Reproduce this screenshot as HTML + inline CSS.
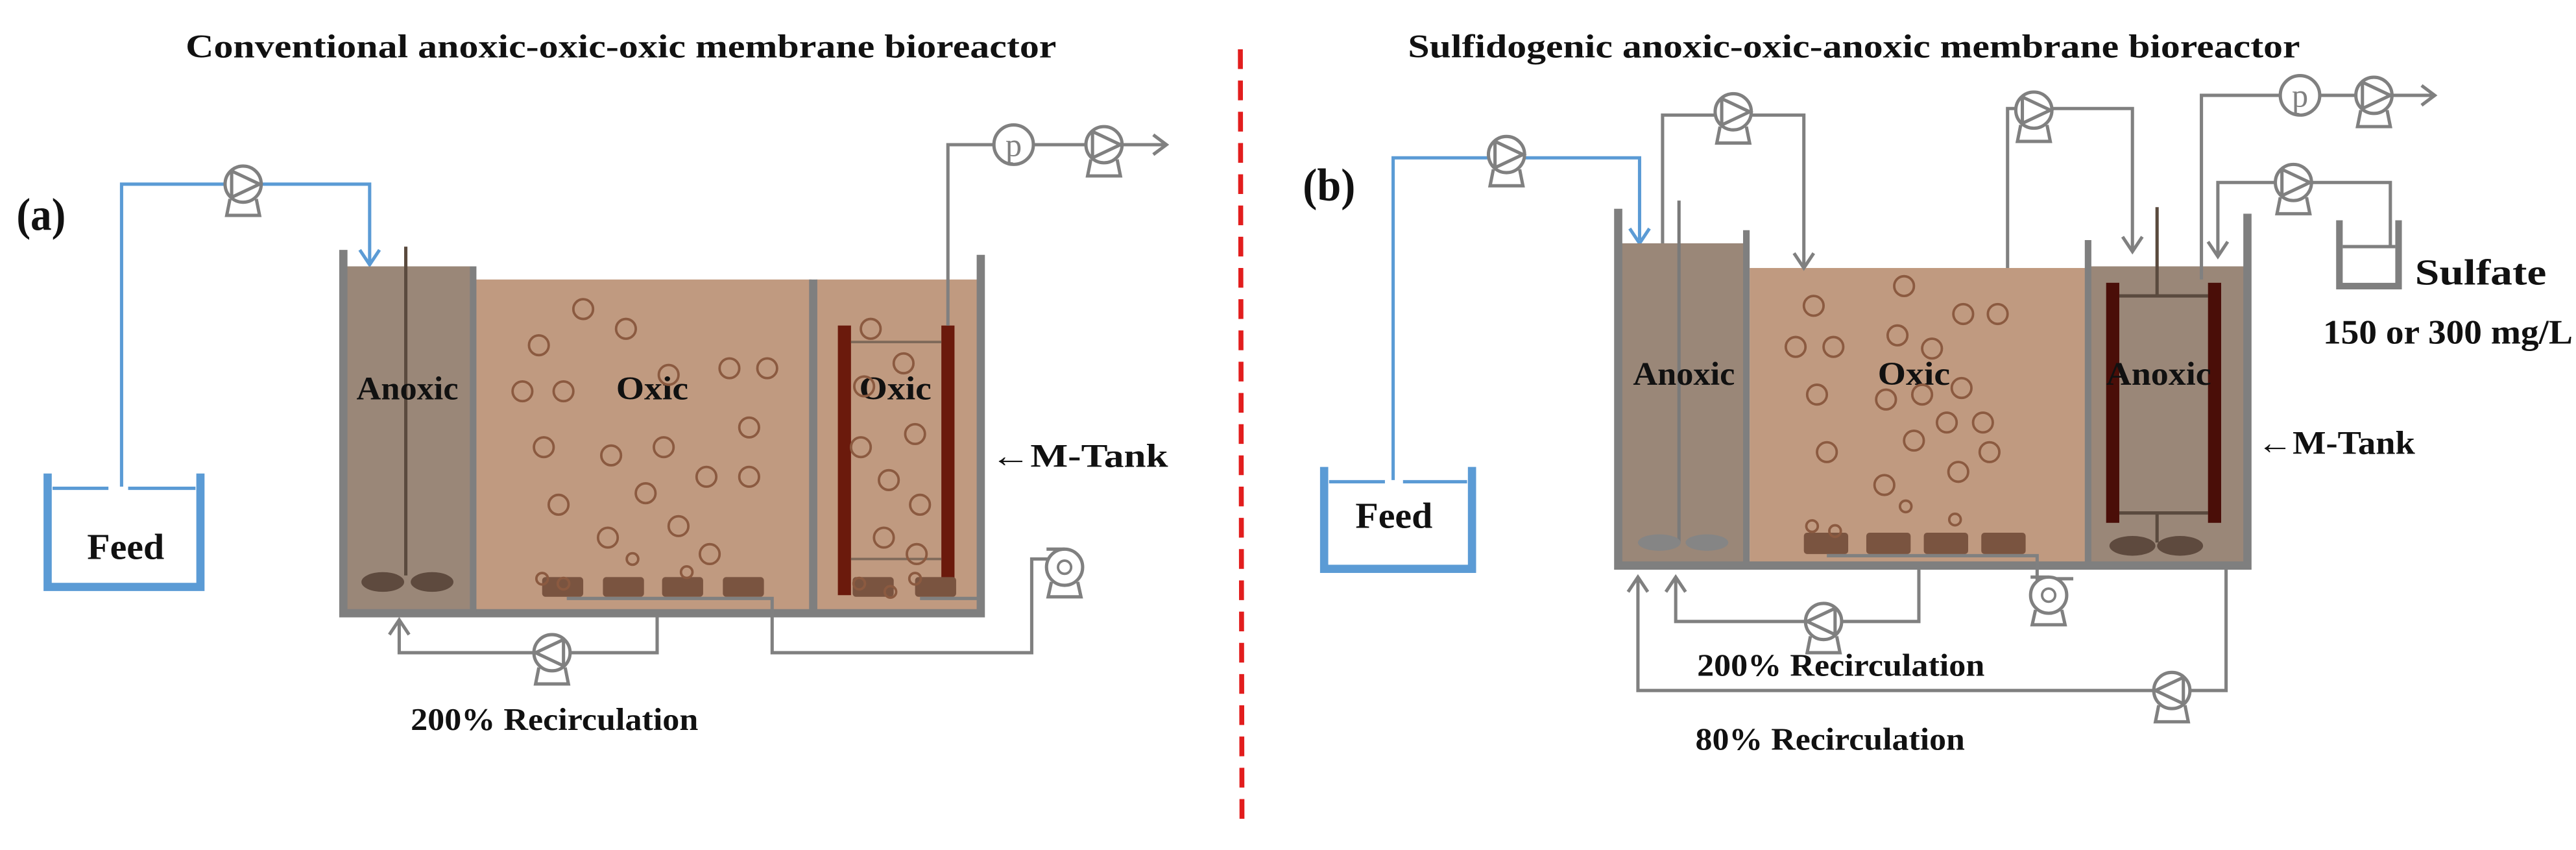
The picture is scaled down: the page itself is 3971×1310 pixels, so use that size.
<!DOCTYPE html>
<html><head><meta charset="utf-8"><style>
html,body{margin:0;padding:0;background:#fff;width:3971px;height:1310px;overflow:hidden}
svg{display:block}
text{font-family:"Liberation Serif",serif;font-weight:bold;fill:#111}
</style></head><body>
<svg width="3971" height="1310" viewBox="0 0 1568 517" preserveAspectRatio="none" xmlns="http://www.w3.org/2000/svg">
<defs>
<g id="pump"><circle cx="0" cy="0" r="11" fill="#fff" stroke="#808080" stroke-width="2"/><path d="M-7,-8 L-7,8 M-7,-8 L10,0 L-7,8" fill="none" stroke="#808080" stroke-width="2"/><path d="M-8,9 L-10,19 L10,19 L8,9" fill="none" stroke="#808080" stroke-width="2"/></g>
<g id="pumpL"><circle cx="0" cy="0" r="11" fill="#fff" stroke="#808080" stroke-width="2"/><path d="M7,-8 L7,8 M7,-8 L-10,0 L7,8" fill="none" stroke="#808080" stroke-width="2"/><path d="M-8,9 L-10,19 L10,19 L8,9" fill="none" stroke="#808080" stroke-width="2"/></g>
<g id="blower"><circle cx="0" cy="0" r="11" fill="#fff" stroke="#808080" stroke-width="2"/><circle cx="0" cy="0" r="4" fill="none" stroke="#808080" stroke-width="1.5"/><path d="M-11,-11 L0,-11" stroke="#808080" stroke-width="2"/><path d="M-8,9 L-10,18 L10,18 L8,9" fill="none" stroke="#808080" stroke-width="2"/></g>
<g id="pg"><circle cx="0" cy="0" r="12" fill="#fff" stroke="#808080" stroke-width="2"/><text x="0" y="7" text-anchor="middle" font-size="20" style="font-weight:normal;fill:#808080">p</text></g>
</defs>

<text x="113" y="35" font-size="20" textLength="530" lengthAdjust="spacingAndGlyphs">Conventional anoxic-oxic-oxic  membrane  bioreactor</text>
<text x="857" y="35" font-size="20" textLength="543" lengthAdjust="spacingAndGlyphs">Sulfidogenic anoxic-oxic-anoxic  membrane  bioreactor</text>
<line x1="755" y1="30" x2="756" y2="505" stroke="#e21d1d" stroke-width="3" stroke-dasharray="12,7"/>

<!-- ===== (a) ===== -->
<text x="10" y="140" font-size="28" textLength="30" lengthAdjust="spacingAndGlyphs">(a)</text>
<path d="M29,288 V357 H122 V288" fill="none" stroke="#5b9bd5" stroke-width="5"/>
<path d="M32,297 H66 M78,297 H119" stroke="#5b9bd5" stroke-width="2"/>
<text x="53" y="340" font-size="22" textLength="47" lengthAdjust="spacingAndGlyphs">Feed</text>
<path d="M74,296 V112 H225 V160" fill="none" stroke="#5b9bd5" stroke-width="2"/>
<path d="M219,152 L225,161 L231,152" fill="none" stroke="#5b9bd5" stroke-width="2"/>
<use href="#pump" x="148" y="112"/>
<rect x="209" y="162" width="78" height="209" fill="#9a8778"/>
<rect x="289" y="170" width="205" height="201" fill="#c09a80"/>
<rect x="497" y="170" width="99" height="201" fill="#c09a80"/>
<path d="M209,152 V373 H597 V155" fill="none" stroke="#7f7f7f" stroke-width="5"/>
<line x1="288" y1="162" x2="288" y2="372" stroke="#7f7f7f" stroke-width="4"/>
<line x1="495" y1="170" x2="495" y2="372" stroke="#7f7f7f" stroke-width="5"/>
<line x1="247" y1="150" x2="247" y2="350" stroke="#5a4a3e" stroke-width="2"/>
<ellipse cx="233" cy="354" rx="13" ry="6" fill="#5e4a3e"/><ellipse cx="263" cy="354" rx="13" ry="6" fill="#5e4a3e"/>
<rect x="510" y="198" width="8" height="164" fill="#6b1a0c"/><rect x="573" y="198" width="8" height="164" fill="#6b1a0c"/>
<path d="M518,208 H573 M518,340 H573" stroke="#7f6a5a" stroke-width="1.5"/>
<path d="M577,198 V88 H605 M629,88 H661 M683,88 H710 M702,82 L710,88 L702,94" fill="none" stroke="#808080" stroke-width="2"/>
<use href="#pg" x="617" y="88"/><use href="#pump" x="672" y="88"/>
<g fill="#7a5440"><rect x="330" y="351" width="25" height="12" rx="2"/><rect x="367" y="351" width="25" height="12" rx="2"/><rect x="403" y="351" width="25" height="12" rx="2"/><rect x="440" y="351" width="25" height="12" rx="2"/><rect x="519" y="351" width="25" height="12" rx="2"/><rect x="557" y="351" width="25" height="12" rx="2"/></g>
<path d="M345,364 H470 V397 H628 V340 H640 M560,364 H596" fill="none" stroke="#808080" stroke-width="2"/>
<use href="#blower" x="648" y="345"/>
<path d="M400,375 V397 H347 M325,397 H243 V378" fill="none" stroke="#808080" stroke-width="2"/>
<path d="M237,386 L243,377 L249,386" fill="none" stroke="#808080" stroke-width="2"/>
<use href="#pumpL" x="336" y="397"/>
<text x="250" y="444" font-size="19" textLength="175" lengthAdjust="spacingAndGlyphs">200% Recirculation</text>
<text x="217" y="243" font-size="20" textLength="62" lengthAdjust="spacingAndGlyphs">Anoxic</text>
<text x="375" y="243" font-size="20" textLength="44" lengthAdjust="spacingAndGlyphs">Oxic</text>
<text x="523" y="243" font-size="20" textLength="44" lengthAdjust="spacingAndGlyphs">Oxic</text>
<text x="603" y="284" font-size="20" textLength="108" lengthAdjust="spacingAndGlyphs">←M-Tank</text>
<g fill="none" stroke="#8b5a40" stroke-width="1.5">
<circle cx="355" cy="188" r="6"/><circle cx="381" cy="200" r="6"/><circle cx="328" cy="210" r="6"/><circle cx="407" cy="228" r="6"/><circle cx="444" cy="224" r="6"/><circle cx="467" cy="224" r="6"/><circle cx="318" cy="238" r="6"/><circle cx="343" cy="238" r="6"/><circle cx="456" cy="260" r="6"/><circle cx="331" cy="272" r="6"/><circle cx="372" cy="277" r="6"/><circle cx="404" cy="272" r="6"/><circle cx="430" cy="290" r="6"/><circle cx="456" cy="290" r="6"/><circle cx="340" cy="307" r="6"/><circle cx="393" cy="300" r="6"/><circle cx="413" cy="320" r="6"/><circle cx="370" cy="327" r="6"/><circle cx="432" cy="337" r="6"/><circle cx="385" cy="340" r="3.5"/><circle cx="418" cy="348" r="3.5"/><circle cx="330" cy="352" r="3.5"/><circle cx="343" cy="355" r="3.5"/>
<circle cx="530" cy="200" r="6"/><circle cx="550" cy="221" r="6"/><circle cx="526" cy="235" r="6"/><circle cx="557" cy="264" r="6"/><circle cx="524" cy="272" r="6"/><circle cx="541" cy="292" r="6"/><circle cx="560" cy="307" r="6"/><circle cx="538" cy="327" r="6"/><circle cx="558" cy="337" r="6"/><circle cx="523" cy="355" r="3.5"/><circle cx="542" cy="360" r="3.5"/><circle cx="557" cy="352" r="3.5"/>
</g>

<!-- ===== (b) ===== -->
<text x="793" y="122" font-size="28" textLength="32" lengthAdjust="spacingAndGlyphs">(b)</text>
<path d="M806,284 V346 H896 V284" fill="none" stroke="#5b9bd5" stroke-width="5"/>
<path d="M809,293 H843 M854,293 H893" stroke="#5b9bd5" stroke-width="2"/>
<text x="825" y="321" font-size="22" textLength="47" lengthAdjust="spacingAndGlyphs">Feed</text>
<path d="M848,292 V96 H998 V146" fill="none" stroke="#5b9bd5" stroke-width="2"/>
<path d="M992,139 L998,148 L1004,139" fill="none" stroke="#5b9bd5" stroke-width="2"/>
<use href="#pump" x="917" y="94"/>
<rect x="987" y="148" width="75" height="194" fill="#9a8778"/>
<rect x="1065" y="163" width="205" height="179" fill="#c09a80"/>
<rect x="1272" y="162" width="94" height="180" fill="#9a8778"/>
<path d="M985,127 V344 H1368 V130" fill="none" stroke="#7f7f7f" stroke-width="5"/>
<line x1="1063" y1="140" x2="1063" y2="343" stroke="#7f7f7f" stroke-width="4"/>
<line x1="1271" y1="146" x2="1271" y2="343" stroke="#7f7f7f" stroke-width="4"/>
<line x1="1022" y1="122" x2="1022" y2="330" stroke="#7a7a7a" stroke-width="2"/>
<ellipse cx="1010" cy="330" rx="13" ry="5" fill="#858585"/><ellipse cx="1039" cy="330" rx="13" ry="5" fill="#858585"/>
<path d="M1313,126 V180 M1290,180 H1344 M1290,312 H1344 M1313,312 V330" fill="none" stroke="#5a4a3e" stroke-width="2"/>
<ellipse cx="1298" cy="332" rx="14" ry="6" fill="#5e4a3e"/><ellipse cx="1327" cy="332" rx="14" ry="6" fill="#5e4a3e"/>
<rect x="1282" y="172" width="8" height="146" fill="#4a0e08"/><rect x="1344" y="172" width="8" height="146" fill="#4a0e08"/>
<path d="M1012,148 V70 H1044 M1066,70 H1098 V162" fill="none" stroke="#808080" stroke-width="2"/>
<path d="M1092,154 L1098,163 L1104,154" fill="none" stroke="#808080" stroke-width="2"/>
<use href="#pump" x="1055" y="68"/>
<path d="M1222,163 V66 H1227 M1249,66 H1298 V152" fill="none" stroke="#808080" stroke-width="2"/>
<path d="M1292,144 L1298,153 L1304,144" fill="none" stroke="#808080" stroke-width="2"/>
<use href="#pump" x="1238" y="67"/>
<path d="M1340,170 V58 H1388 M1412,58 H1434 M1456,58 H1482 M1474,52 L1482,58 L1474,64" fill="none" stroke="#808080" stroke-width="2"/>
<use href="#pg" x="1400" y="58"/><use href="#pump" x="1445" y="58"/>
<path d="M1455,150 V111 H1407 M1385,111 H1350 V155" fill="none" stroke="#808080" stroke-width="2"/>
<path d="M1344,147 L1350,156 L1356,147" fill="none" stroke="#808080" stroke-width="2"/>
<use href="#pump" x="1396" y="111"/>
<path d="M1424,134 V174 H1460 V134" fill="none" stroke="#7f7f7f" stroke-width="4"/>
<path d="M1426,150 H1458" stroke="#7f7f7f" stroke-width="2"/>
<text x="1470" y="173" font-size="22" textLength="80" lengthAdjust="spacingAndGlyphs">Sulfate</text>
<text x="1414" y="209" font-size="21" textLength="152" lengthAdjust="spacingAndGlyphs">150 or 300 mg/L</text>
<g fill="#7a5440"><rect x="1098" y="324" width="27" height="13" rx="2"/><rect x="1136" y="324" width="27" height="13" rx="2"/><rect x="1171" y="324" width="27" height="13" rx="2"/><rect x="1206" y="324" width="27" height="13" rx="2"/></g>
<path d="M1112,338 H1240 V352 H1262" fill="none" stroke="#808080" stroke-width="2"/>
<use href="#blower" x="1247" y="362"/>
<path d="M1168,346 V378 H1121 M1099,378 H1020 V352" fill="none" stroke="#808080" stroke-width="2"/>
<path d="M1014,360 L1020,351 L1026,360" fill="none" stroke="#808080" stroke-width="2"/>
<use href="#pumpL" x="1110" y="378"/>
<text x="1033" y="411" font-size="19" textLength="175" lengthAdjust="spacingAndGlyphs">200% Recirculation</text>
<path d="M1355,346 V420 H1333 M1311,420 H997 V352" fill="none" stroke="#808080" stroke-width="2"/>
<path d="M991,360 L997,351 L1003,360" fill="none" stroke="#808080" stroke-width="2"/>
<use href="#pumpL" x="1322" y="420"/>
<text x="1032" y="456" font-size="19" textLength="164" lengthAdjust="spacingAndGlyphs">80% Recirculation</text>
<text x="994" y="234" font-size="20" textLength="62" lengthAdjust="spacingAndGlyphs">Anoxic</text>
<text x="1143" y="234" font-size="20" textLength="44" lengthAdjust="spacingAndGlyphs">Oxic</text>
<text x="1282" y="234" font-size="20" textLength="64" lengthAdjust="spacingAndGlyphs">Anoxic</text>
<text x="1374" y="276" font-size="20" textLength="96" lengthAdjust="spacingAndGlyphs">←M-Tank</text>
<g fill="none" stroke="#8b5a40" stroke-width="1.5">
<circle cx="1159" cy="174" r="6"/><circle cx="1104" cy="186" r="6"/><circle cx="1195" cy="191" r="6"/><circle cx="1216" cy="191" r="6"/><circle cx="1155" cy="204" r="6"/><circle cx="1093" cy="211" r="6"/><circle cx="1116" cy="211" r="6"/><circle cx="1176" cy="212" r="6"/><circle cx="1106" cy="240" r="6"/><circle cx="1148" cy="243" r="6"/><circle cx="1170" cy="240" r="6"/><circle cx="1194" cy="236" r="6"/><circle cx="1185" cy="257" r="6"/><circle cx="1207" cy="257" r="6"/><circle cx="1112" cy="275" r="6"/><circle cx="1165" cy="268" r="6"/><circle cx="1211" cy="275" r="6"/><circle cx="1192" cy="287" r="6"/><circle cx="1147" cy="295" r="6"/><circle cx="1160" cy="308" r="3.5"/><circle cx="1190" cy="316" r="3.5"/><circle cx="1103" cy="320" r="3.5"/><circle cx="1117" cy="323" r="3.5"/>
</g>
</svg>
</body></html>
